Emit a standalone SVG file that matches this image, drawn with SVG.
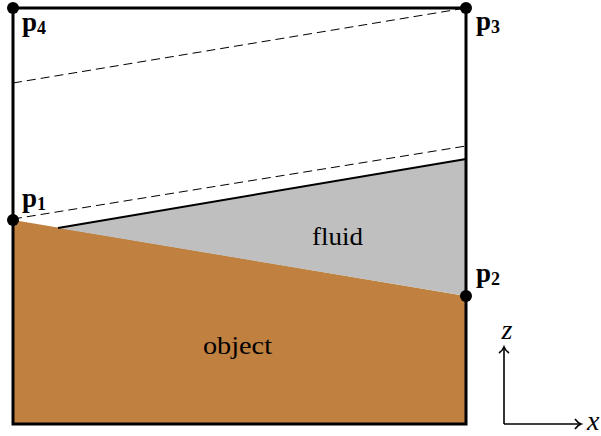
<svg xmlns="http://www.w3.org/2000/svg" width="601" height="436" viewBox="0 0 601 436">
<style>
.lbl{font-family:"Liberation Serif",serif;font-weight:bold;font-size:27px;fill:#000}
.sub{font-size:18px}
.txt{font-family:"Liberation Serif",serif;font-size:26px;fill:#000}
.ax{font-family:"Liberation Serif",serif;font-style:italic;font-size:28px;fill:#000}
.dash{stroke:#000;stroke-width:1;stroke-dasharray:9 5;fill:none}
.dot{fill:#000}
</style>
<defs>
<marker id="arr" markerWidth="12" markerHeight="12" refX="9" refY="6" orient="auto" markerUnits="userSpaceOnUse">
<path d="M3,1 Q6,5 9,6 Q6,7 3,11" fill="none" stroke="#000" stroke-width="1.6"/>
</marker>
</defs>
<g id="object">
<polygon points="13,220 466,296 466,424 13,424" fill="#C08040"/>
<text class="txt" x="203" y="354" textLength="69" lengthAdjust="spacingAndGlyphs">object</text>
</g>
<g id="fluid">
<polygon points="58,228 466,159 466,296" fill="#BFBFBF"/>
<text class="txt" x="312" y="245" textLength="51" lengthAdjust="spacingAndGlyphs">fluid</text>
</g>
<g id="connectors">
<line x1="58" y1="228" x2="466" y2="159" stroke="#000" stroke-width="2"/>
<line class="dash" x1="13" y1="219" x2="466" y2="146"/>
<line class="dash" x1="13" y1="83" x2="466" y2="8"/>
<rect x="13" y="8" width="453" height="416" fill="none" stroke="#000" stroke-width="3"/>
<line x1="504" y1="424" x2="504" y2="347" stroke="#000" stroke-width="1.6" marker-end="url(#arr)"/>
<line x1="504" y1="424" x2="581" y2="424" stroke="#000" stroke-width="1.6" marker-end="url(#arr)"/>
</g>
<g id="p1"><circle class="dot" cx="13" cy="220" r="6"/><text class="lbl" x="22" y="207">p<tspan class="sub" dy="3">1</tspan></text></g>
<g id="p2"><circle class="dot" cx="466" cy="296" r="6"/><text class="lbl" x="476" y="282">p<tspan class="sub" dy="3">2</tspan></text></g>
<g id="p3"><circle class="dot" cx="466" cy="8" r="6"/><text class="lbl" x="476" y="30">p<tspan class="sub" dy="3">3</tspan></text></g>
<g id="p4"><circle class="dot" cx="13" cy="8" r="6"/><text class="lbl" x="22" y="31">p<tspan class="sub" dy="3">4</tspan></text></g>
<g id="axes">
<text class="ax" x="507" y="339" text-anchor="middle">z</text>
<text class="ax" x="587" y="430">x</text>
</g>
</svg>
